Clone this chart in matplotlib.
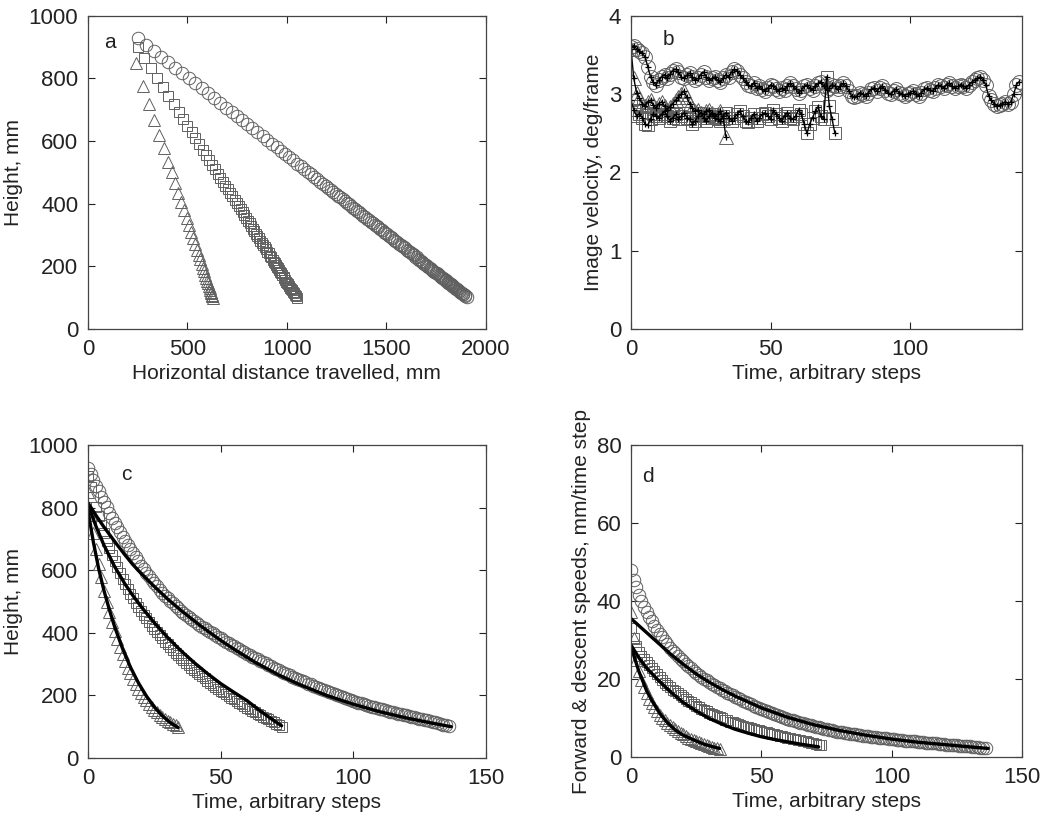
from matplotlib import pyplot as plt

plt.rcParams['font.family'] = ['Liberation Sans', 'DejaVu Sans']
plt.rcParams['font.size'] = 15

h_circle = [928, 908, 889, 870, 852, 835, 818, 801, 784, 768,
            752, 737, 722, 707, 693, 680, 667, 654, 641, 628,
            615, 603, 592, 580, 569, 558, 548, 538, 528, 519,
            510, 502, 494, 486, 478, 470, 463, 456, 450, 443,
            437, 431, 425, 420, 414, 408, 403, 398, 392, 387,
            382, 377, 372, 367, 362, 357, 352, 347, 342, 338,
            333, 328, 324, 319, 315, 310, 306, 302, 297, 293,
            289, 285, 281, 276, 272, 268, 264, 260, 257, 253,
            249, 245, 242, 238, 235, 231, 228, 224, 221, 217,
            214, 211, 208, 204, 201, 198, 195, 192, 189, 186,
            183, 180, 177, 175, 172, 169, 167, 164, 162, 159,
            157, 155, 153, 150, 148, 146, 144, 142, 140, 138,
            136, 134, 132, 130, 128, 126, 124, 122, 120, 118,
            116, 114, 112, 110, 107, 105, 102]
h_square = [900, 866, 834, 803, 773, 745, 719, 694, 671, 649,
            628, 609, 590, 572, 556, 540, 525, 510, 496, 483,
            470, 458, 446, 434, 423, 412, 402, 392, 382, 372,
            363, 354, 345, 337, 328, 320, 312, 304, 297, 289,
            282, 275, 268, 261, 254, 247, 241, 234, 228, 221,
            215, 210, 204, 199, 193, 188, 183, 177, 172, 166,
            161, 156, 151, 147, 142, 137, 132, 128, 123, 119,
            114, 109, 105, 100]
h_tri = [851, 777, 719, 668, 620, 578, 533, 500, 466, 435,
         406, 379, 354, 331, 309, 289, 270, 253, 237, 222,
         208, 196, 184, 173, 163, 154, 146, 138, 131, 125,
         119, 114, 109, 104, 99]

# ---- horizontal distance travelled (mm), panel a ----
x_circle = [252, 292, 330, 368, 404, 438, 472, 506, 540, 572,
            604, 634, 664, 694, 722, 748, 774, 800, 826, 852,
            878, 902, 924, 948, 970, 992, 1012, 1032, 1052, 1070,
            1088, 1104, 1120, 1136, 1152, 1168, 1182, 1196, 1208, 1222,
            1234, 1246, 1258, 1268, 1280, 1292, 1302, 1312, 1324, 1334,
            1344, 1354, 1364, 1374, 1384, 1394, 1404, 1414, 1424, 1432,
            1442, 1452, 1460, 1470, 1478, 1488, 1496, 1504, 1514, 1522,
            1530, 1538, 1546, 1556, 1564, 1572, 1580, 1588, 1594, 1602,
            1610, 1618, 1624, 1632, 1638, 1646, 1652, 1660, 1666, 1674,
            1680, 1686, 1692, 1700, 1706, 1712, 1718, 1724, 1730, 1736,
            1742, 1748, 1754, 1758, 1764, 1770, 1774, 1780, 1784, 1790,
            1794, 1798, 1802, 1808, 1812, 1816, 1820, 1824, 1828, 1832,
            1836, 1840, 1844, 1848, 1852, 1856, 1860, 1864, 1868, 1872,
            1876, 1880, 1884, 1888, 1894, 1898, 1904]
x_square = [249, 283, 315, 346, 376, 404, 430, 455, 478, 500,
            521, 540, 559, 577, 593, 609, 624, 639, 653, 666,
            679, 691, 703, 715, 726, 737, 747, 757, 767, 777,
            786, 795, 804, 812, 821, 829, 837, 845, 852, 860,
            867, 874, 881, 888, 895, 902, 908, 915, 921, 928,
            934, 939, 945, 950, 956, 961, 966, 972, 977, 983,
            988, 993, 998, 1002, 1007, 1012, 1017, 1021, 1026, 1030,
            1035, 1040, 1044, 1049]
x_tri = [240, 278, 308, 334, 359, 380, 403, 420, 438, 454,
         469, 483, 496, 508, 519, 529, 539, 548, 556, 564,
         571, 577, 583, 589, 594, 599, 603, 607, 611, 614,
         617, 619, 622, 624, 627]

# ---- image velocity (deg/frame), panel b ----
v_circle = [3.60, 3.62, 3.58, 3.55, 3.52, 3.48, 3.35, 3.22, 3.15, 3.12,
            3.18, 3.22, 3.25, 3.20, 3.26, 3.30, 3.32, 3.28, 3.22, 3.20,
            3.24, 3.27, 3.22, 3.18, 3.20, 3.25, 3.28, 3.22, 3.18, 3.20,
            3.22, 3.18, 3.15, 3.20, 3.25, 3.22, 3.28, 3.32, 3.30, 3.25,
            3.20, 3.16, 3.12, 3.10, 3.14, 3.08, 3.10, 3.06, 3.04, 3.08,
            3.12, 3.10, 3.06, 3.04, 3.08, 3.05, 3.10, 3.14, 3.10, 3.06,
            3.02, 3.05, 3.10, 3.12, 3.08, 3.05, 3.10, 3.14, 3.16, 3.10,
            3.05, 3.08, 3.12, 3.10, 3.06, 3.10, 3.14, 3.10, 3.04, 2.98,
            2.96, 2.98, 3.02, 3.00, 2.97, 3.02, 3.06, 3.08, 3.04, 3.08,
            3.10, 3.05, 3.02, 3.00, 3.04, 3.06, 3.02, 3.00, 2.98, 3.00,
            3.02, 3.04, 3.00, 2.98, 3.02, 3.06, 3.08, 3.05, 3.04, 3.08,
            3.12, 3.10, 3.08, 3.12, 3.14, 3.10, 3.08, 3.10, 3.12, 3.10,
            3.08, 3.12, 3.15, 3.18, 3.20, 3.22, 3.18, 3.12, 2.98, 2.92,
            2.88, 2.85, 2.86, 2.88, 2.90, 2.88, 2.90, 3.00, 3.12, 3.16]
v_square = [2.92, 2.80, 2.72, 2.75, 2.70, 2.62, 2.60, 2.68, 2.75, 2.72,
            2.70, 2.74, 2.78, 2.72, 2.66, 2.70, 2.74, 2.68, 2.72, 2.76,
            2.70, 2.68, 2.62, 2.66, 2.72, 2.76, 2.70, 2.66, 2.72, 2.74,
            2.70, 2.68, 2.66, 2.72, 2.76, 2.70, 2.66, 2.70, 2.74, 2.78,
            2.72, 2.66, 2.64, 2.70, 2.74, 2.66, 2.70, 2.74, 2.76, 2.72,
            2.68, 2.80, 2.74, 2.70, 2.66, 2.72, 2.76, 2.70, 2.68, 2.72,
            2.80, 2.74, 2.62, 2.50, 2.62, 2.70, 2.78, 2.84, 2.72, 2.68,
            3.22, 2.85, 2.68, 2.50]
v_tri = [3.58, 3.20, 3.02, 2.95, 2.88, 2.85, 2.90, 2.92, 2.86, 2.82,
         2.88, 2.90, 2.85, 2.80, 2.84, 2.88, 2.92, 2.96, 3.00, 3.04,
         2.96, 2.88, 2.82, 2.78, 2.80, 2.76, 2.74, 2.78, 2.80, 2.76,
         2.72, 2.74, 2.78, 2.70, 2.45]

# ---- speeds (mm/time step), panel d ----
s_circle = [48.0, 45.5, 43.5, 41.5, 40.0, 38.5,
            37.2, 36.0, 34.8, 33.6, 32.5, 31.6, 30.7, 29.8, 28.9, 28.0,
            27.3, 26.6, 25.9, 25.2, 24.5, 23.9, 23.3, 22.7, 22.1, 21.5,
            21.0, 20.6, 20.1, 19.7, 19.2, 18.8, 18.4, 18.0, 17.6, 17.2,
            16.8, 16.5, 16.1, 15.8, 15.4, 15.1, 14.8, 14.4, 14.1, 13.8,
            13.5, 13.2, 12.9, 12.6, 12.3, 12.0, 11.8, 11.5, 11.3, 11.0,
            10.8, 10.5, 10.3, 10.0, 9.8, 9.6, 9.4, 9.2, 9.0, 8.8,
            8.6, 8.4, 8.3, 8.1, 7.9, 7.7, 7.6, 7.4, 7.3, 7.1,
            7.0, 6.8, 6.7, 6.5, 6.4, 6.3, 6.2, 6.1, 6.0, 5.9,
            5.8, 5.7, 5.6, 5.5, 5.4, 5.3, 5.2, 5.2, 5.1, 5.0,
            4.9, 4.8, 4.8, 4.7, 4.6, 4.5, 4.4, 4.4, 4.3, 4.2,
            4.1, 4.1, 4.0, 4.0, 3.9, 3.8, 3.8, 3.7, 3.7, 3.6,
            3.5, 3.5, 3.4, 3.4, 3.3, 3.2, 3.2, 3.1, 3.1, 3.0,
            2.9, 2.9, 2.8, 2.8, 2.7, 2.6, 2.6, 2.5, 2.4, 2.4, 2.3]
s_square = [33.0, 30.5, 28.5, 27.0, 26.0, 25.2, 24.4, 23.6, 22.8, 22.0,
            21.2, 20.5, 19.8, 19.1, 18.5, 17.9, 17.3, 16.8, 16.3, 15.8,
            15.3, 14.8, 14.4, 14.0, 13.6, 13.2, 12.8, 12.4, 12.0, 11.7,
            11.4, 11.1, 10.8, 10.5, 10.2, 9.9, 9.6, 9.4, 9.1, 8.9,
            8.6, 8.4, 8.2, 8.0, 7.8, 7.6, 7.4, 7.2, 7.0, 6.8,
            6.6, 6.4, 6.3, 6.1, 5.9, 5.8, 5.6, 5.5, 5.3, 5.2,
            5.0, 4.9, 4.7, 4.6, 4.4, 4.3, 4.1, 4.0, 3.8, 3.7,
            3.5, 3.4, 3.2, 3.0]
s_tri = [37.3, 30.4, 25.0, 22.0, 19.8, 18.0, 16.4, 15.0, 13.8, 12.7,
         11.7, 10.8, 10.1, 9.4, 8.8, 8.2, 7.6, 7.1, 6.6, 6.2,
         5.8, 5.4, 5.0, 4.7, 4.4, 4.1, 3.8, 3.5, 3.3, 3.0,
         2.8, 2.6, 2.4, 2.2, 2.0]

# ---- model curves (black lines), panels c and d ----
fit_c_t_circle = [0, 3, 6, 10, 14, 17, 20, 25, 30, 35, 42, 50, 55, 63, 72, 80, 90, 100, 110, 120, 130, 137]
fit_c_circle = [815, 775, 738, 692, 648, 617, 590, 548, 508, 472, 425, 376, 348, 306, 265, 234, 200, 172, 148, 128, 111, 100]
fit_c_t_square = [0, 3, 6, 10, 14, 17, 20, 25, 30, 35, 40, 45, 50, 55, 60, 65, 70, 73]
fit_c_square = [810, 740, 680, 612, 555, 518, 484, 432, 385, 343, 305, 270, 238, 210, 183, 150, 120, 103]
fit_c_t_tri = [0, 2, 4, 6, 8, 10, 13, 16, 19, 22, 25, 28, 31, 34]
fit_c_tri = [790, 690, 605, 535, 475, 420, 350, 290, 240, 198, 163, 135, 113, 97]

fit_d_t_circle = [0, 5, 10, 15, 20, 25, 30, 35, 40, 50, 60, 70, 80, 90, 100, 110, 120, 130, 137]
fit_d_circle = [35.5, 32.5, 29.5, 26.5, 23.8, 21.3, 19.2, 17.3, 15.6, 12.6, 10.2, 8.3, 6.8, 5.6, 4.6, 3.8, 3.2, 2.6, 2.2]
fit_d_t_square = [0, 3, 6, 10, 15, 20, 25, 30, 35, 40, 45, 50, 55, 60, 65, 72]
fit_d_square = [28.7, 25.5, 22.8, 20.0, 16.8, 14.0, 11.8, 9.9, 8.4, 7.1, 6.1, 5.2, 4.5, 3.9, 3.3, 2.6]
fit_d_t_tri = [0, 3, 6, 8, 11, 14, 17, 20, 24, 28, 31, 34]
fit_d_tri = [28.3, 22.0, 17.0, 14.5, 11.2, 8.8, 6.9, 5.6, 4.4, 3.3, 2.7, 2.2]

EDGE = '#606060'
TXT = '#222222'
mk = dict(linestyle='none', markerfacecolor='none', markeredgecolor=EDGE, markeredgewidth=0.7)


def steps(vals):
    return list(range(len(vals)))


def markers(ax, xs, ys, marker, size):
    ax.plot(xs, ys, marker=marker, markersize=size, **mk)


def style(ax, xlim, ylim, xticks, yticks, xlabel, ylabel, letter, lx, ly):
    ax.set_xlim(xlim)
    ax.set_ylim(ylim)
    ax.set_xticks(xticks)
    ax.set_yticks(yticks)
    ax.tick_params(direction='in', top=True, right=True, length=5, width=0.8,
                   labelsize=16, pad=7, colors=TXT)
    for s in ax.spines.values():
        s.set_linewidth(0.9)
        s.set_color('#444444')
    ax.set_xlabel(xlabel, fontsize=15, color=TXT, labelpad=3)
    ax.set_ylabel(ylabel, fontsize=15, color=TXT, labelpad=4)
    ax.text(lx, ly, letter, transform=ax.transAxes, fontsize=15,
            ha='center', va='center', color=TXT)


fig = plt.figure(figsize=(10.52, 8.14), dpi=100)
ax_a = fig.add_axes([0.0837, 0.596, 0.378, 0.3845])
ax_b = fig.add_axes([0.5998, 0.596, 0.3717, 0.3845])
ax_c = fig.add_axes([0.0837, 0.0688, 0.378, 0.3845])
ax_d = fig.add_axes([0.5998, 0.0700, 0.3717, 0.3833])

# a: height vs horizontal distance
markers(ax_a, x_circle, h_circle, 'o', 9)
markers(ax_a, x_square, h_square, 's', 7)
markers(ax_a, x_tri, h_tri, '^', 9)
style(ax_a, (0, 2000), (0, 1000), [0, 500, 1000, 1500, 2000], range(0, 1001, 200),
      'Horizontal distance travelled, mm', 'Height, mm', 'a', 0.055, 0.914)

# b: image velocity
for vals, m, sz in [(v_circle, 'o', 10), (v_square, 's', 8), (v_tri, '^', 10)]:
    markers(ax_b, steps(vals), vals, m, sz)
for vals in [v_circle, v_square, v_tri]:
    ax_b.plot(steps(vals), vals, color='black', lw=1.0, marker='+', markersize=4,
              markeredgewidth=0.9)
style(ax_b, (0, 140), (0, 4), [0, 50, 100], range(0, 5),
      'Time, arbitrary steps', 'Image velocity, deg/frame', 'b', 0.097, 0.923)

# c: height vs time
markers(ax_c, steps(h_circle), h_circle, 'o', 9)
markers(ax_c, steps(h_square), h_square, 's', 7)
markers(ax_c, steps(h_tri), h_tri, '^', 9)
for ts, ys in [(fit_c_t_circle, fit_c_circle), (fit_c_t_square, fit_c_square),
               (fit_c_t_tri, fit_c_tri)]:
    ax_c.plot(ts, ys, color='black', lw=2.4, solid_capstyle='round')
style(ax_c, (0, 150), (0, 1000), [0, 50, 100, 150], range(0, 1001, 200),
      'Time, arbitrary steps', 'Height, mm', 'c', 0.095, 0.907)

# d: forward & descent speeds
markers(ax_d, steps(s_circle), s_circle, 'o', 9)
markers(ax_d, steps(s_square), s_square, 's', 7)
markers(ax_d, steps(s_tri), s_tri, '^', 9)
for ts, ys in [(fit_d_t_circle, fit_d_circle), (fit_d_t_square, fit_d_square),
               (fit_d_t_tri, fit_d_tri)]:
    ax_d.plot(ts, ys, color='black', lw=2.4, solid_capstyle='round')
style(ax_d, (0, 150), (0, 80), [0, 50, 100, 150], range(0, 81, 20),
      'Time, arbitrary steps', 'Forward & descent speeds, mm/time step', 'd', 0.043, 0.90)

fig.savefig('out.png', dpi=100)
